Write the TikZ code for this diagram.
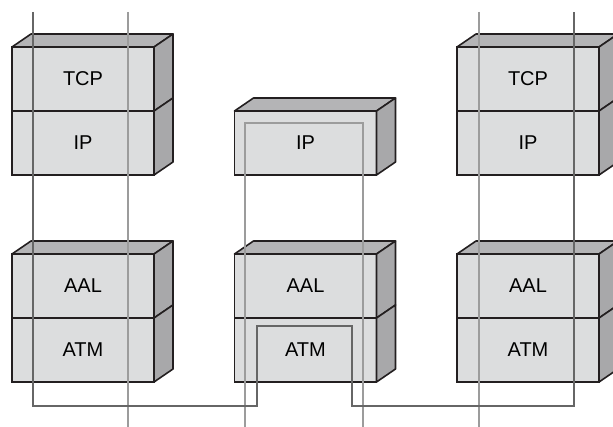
\documentclass[tikz,border=0pt]{standalone}
\usepackage{fontspec}
\setmainfont{Liberation Sans}
\definecolor{boxfront}{HTML}{DCDDDE}
\definecolor{boxtop}{HTML}{B4B4B6}
\definecolor{boxside}{HTML}{A8A8AA}
\definecolor{boxline}{HTML}{231F20}
\definecolor{pathdark}{HTML}{666666}
\definecolor{pathlight}{HTML}{9C9C9C}
\tikzset{
  layer/.style={draw=boxline, fill=boxfront, line width=1.2pt, outer sep=0pt, inner sep=0pt,
    minimum width=106.5pt, minimum height=48pt, font=\fontsize{15}{18}\selectfont},
  face/.style={draw=boxline, line width=1.2pt, line join=round},
  dark/.style={draw=pathdark, line width=1.5pt},
  light/.style={draw=pathlight, line width=1.5pt}
}
\begin{document}
\begin{tikzpicture}[x=0.75pt,y=-0.75pt]
\clip (0,0) rectangle (613,427);
\node[layer] (ltcp) at (83,79) {TCP};
\node[layer] (lip) at (83,143) {IP};
\node[layer] (laal) at (83,286) {AAL};
\node[layer] (latm) at (83,350) {ATM};
\node[layer] (mip) at (305.5,143) {IP};
\node[layer] (maal) at (305.5,286) {AAL};
\node[layer] (matm) at (305.5,350) {ATM};
\node[layer] (rtcp) at (528,79) {TCP};
\node[layer] (rip) at (528,143) {IP};
\node[layer] (raal) at (528,286) {AAL};
\node[layer] (ratm) at (528,350) {ATM};
\foreach \n in {ltcp,mip,rtcp,laal,maal,raal}
  \draw[face,fill=boxtop] (\n.north west) -- ++(19,-13) -- ([shift={(19,-13)}]\n.north east) -- (\n.north east) -- cycle;
\foreach \n in {ltcp,lip,mip,rtcp,rip,laal,latm,maal,matm,raal,ratm}
  \draw[face,fill=boxside] (\n.north east) -- ++(19,-13) -- ([shift={(19,-13)}]\n.south east) -- (\n.south east) -- cycle;
\coordinate (a1) at (128,12);
\coordinate (a2) at (128,427);
\coordinate (b1) at (245,427);
\coordinate (b2) at (363,123);
\coordinate (b3) at (363,427);
\coordinate (c1) at (479,12);
\coordinate (c2) at (479,427);
\draw[light] (a1) -- (a2);
\draw[light] (b1) |- (b2) -- (b3);
\draw[light] (c1) -- (c2);
\coordinate (d1) at (33,12);
\coordinate (d2) at (257,406);
\coordinate (d3) at (352,326);
\coordinate (d4) at (574,406);
\coordinate (d5) at (574,12);
\draw[dark] (d1) |- (d2) |- (d3) |- (d4) -- (d5);
\end{tikzpicture}
\end{document}
